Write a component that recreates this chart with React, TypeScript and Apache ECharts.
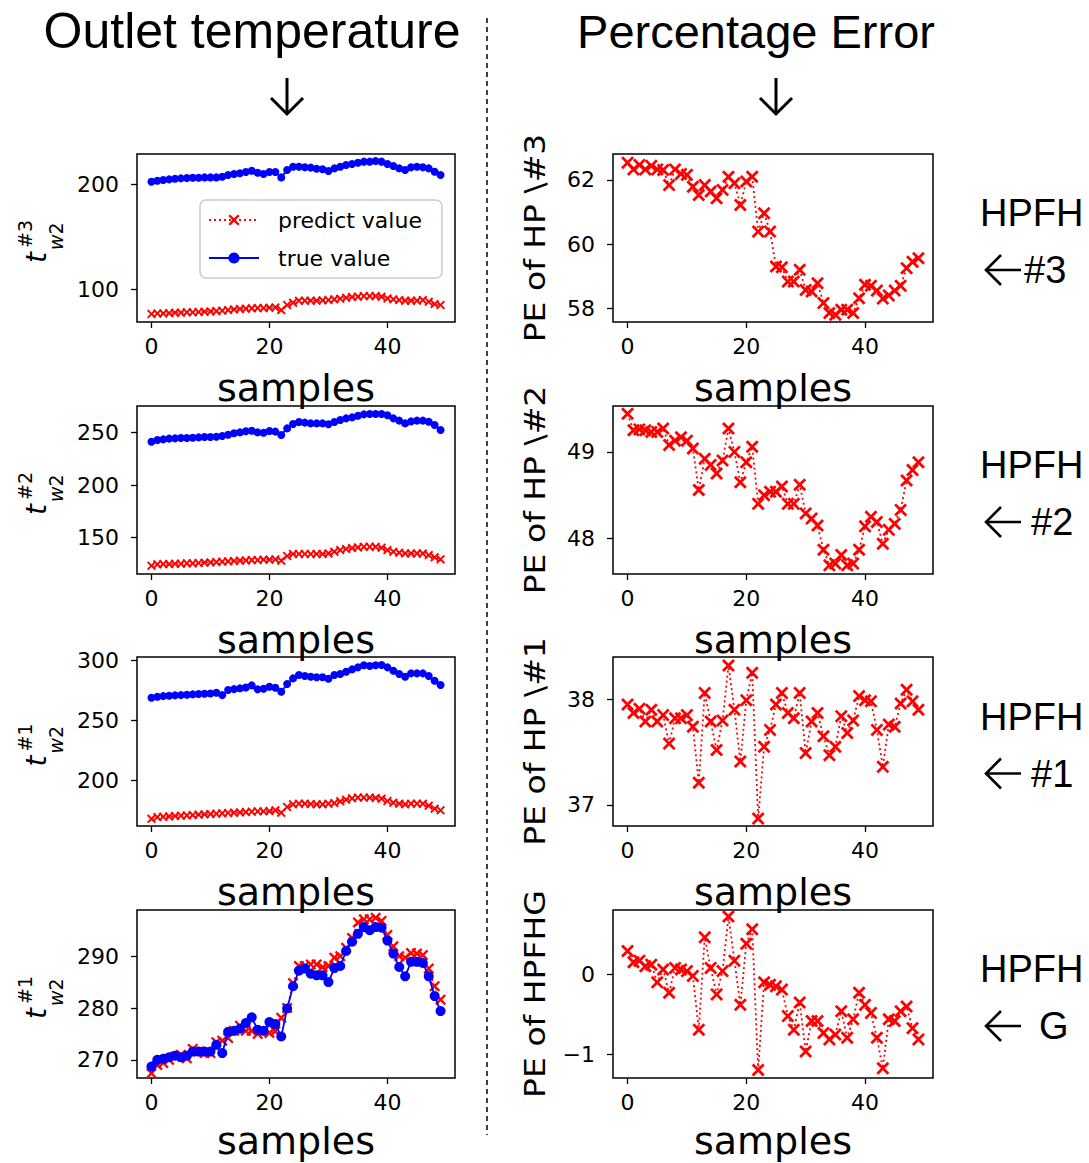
import React, { useEffect, useRef } from "react";
import * as echarts from "echarts";

// ---------- data ----------
const xTicks = [0, 20, 40];

const hp3True = [202.2,203.2,203.8,204.4,205.1,205.4,205.7,206.0,206.0,206.3,206.3,206.3,207.0,208.6,209.5,210.2,211.4,212.7,210.8,209.5,211.4,211.4,206.3,213.3,216.5,216.5,215.9,215.6,214.6,214.0,212.4,214.9,216.5,218.1,219.0,220.3,221.3,221.3,221.9,221.3,219.0,217.1,214.9,213.3,215.9,216.5,215.9,214.9,211.7,208.6];
const hp3Pred = [76.2,76.8,76.8,77.1,77.5,77.5,77.8,77.8,78.1,78.4,78.7,79.0,79.4,80.0,80.6,81.0,81.3,81.6,81.9,81.9,82.2,82.5,80.0,84.8,87.0,88.9,88.9,88.9,88.9,89.2,89.5,90.2,90.8,91.7,92.4,92.7,93.3,93.3,93.3,92.7,91.1,90.2,89.5,88.9,88.9,88.9,89.5,87.9,85.7,84.8];

const hp2True = [241.4,243.0,243.6,244.3,244.6,244.9,244.9,245.2,245.5,245.9,245.9,246.2,246.8,248.1,249.4,250.3,251.3,251.9,250.3,250.0,251.6,251.0,247.8,254.1,258.3,260.2,259.6,258.9,258.9,258.9,258.0,260.2,262.1,263.7,264.6,266.2,267.5,267.8,267.8,267.8,266.6,263.7,261.5,258.9,260.8,261.5,261.5,260.5,257.3,252.5];
const hp2Pred = [122.9,124.2,124.5,124.5,124.8,124.8,125.2,125.2,125.5,125.8,126.1,126.4,126.8,127.1,127.4,127.7,128.0,128.3,128.3,128.7,128.7,129.0,127.7,132.2,134.1,134.1,134.1,134.1,134.1,134.1,134.7,136.3,137.9,138.9,139.8,140.4,141.0,141.0,141.0,140.1,137.9,136.3,135.4,134.7,134.7,134.7,134.7,133.1,130.9,129.0];

const hp1True = [268.6,269.4,270.0,270.3,270.6,270.8,271.1,271.4,271.7,271.9,272.2,272.8,270.8,275.0,275.8,276.4,277.2,278.9,275.6,276.1,277.8,276.9,273.6,280.0,284.7,287.5,286.7,286.1,285.6,285.6,284.4,287.5,288.3,290.3,292.2,293.9,295.6,295.0,295.6,295.8,293.9,291.1,288.3,286.1,288.9,288.9,288.9,286.7,282.8,279.2];
const hp1Pred = [168.0,169.4,169.7,170.0,170.3,170.6,170.8,171.1,171.4,171.7,171.9,172.2,172.5,172.8,173.1,173.3,173.6,173.9,174.2,174.2,174.4,175.0,173.1,177.8,180.0,180.6,180.6,180.3,180.0,180.0,180.6,181.1,182.5,183.9,185.0,185.6,185.6,185.6,185.3,184.7,182.8,181.4,180.6,180.0,180.6,180.6,180.6,178.9,176.4,175.0];

const hpgTrue = [268.7,270.0,270.2,270.5,270.8,270.5,270.8,271.6,271.6,271.6,271.6,272.9,271.3,275.4,275.6,276.0,277.1,278.2,275.8,275.6,277.3,276.9,274.5,279.9,284.2,287.2,287.6,286.6,286.3,286.3,285.0,287.7,288.1,291.0,292.8,294.3,295.6,295.0,295.6,295.5,293.0,290.5,287.9,286.1,288.9,288.9,288.7,286.1,282.3,279.4];
const hpgPred = [267.4,269.0,269.4,270.0,270.6,271.0,270.3,272.1,271.6,271.3,271.3,273.4,273.7,274.2,275.6,276.6,275.6,275.6,275.0,275.6,275.2,275.5,278.1,280.0,284.8,288.1,288.1,288.4,288.4,287.9,288.1,289.7,290.0,291.6,293.5,296.5,297.1,297.1,297.4,296.8,294.1,291.9,290.0,289.7,290.6,290.5,290.2,287.6,284.2,281.6];

const pe3 = [62.54,62.33,62.47,62.33,62.44,62.33,62.31,61.84,62.33,62.19,62.16,61.79,61.53,61.84,61.64,61.43,61.69,62.10,61.90,61.22,61.95,62.10,60.39,60.96,60.39,59.30,59.28,58.83,58.83,59.20,58.57,58.52,58.78,58.16,57.85,57.80,57.95,57.95,57.85,58.31,58.73,58.70,58.55,58.30,58.40,58.55,58.70,59.25,59.45,59.56];
const pe2 = [49.44,49.25,49.26,49.25,49.23,49.23,49.27,49.08,49.13,49.17,49.13,49.04,48.56,48.92,48.85,48.75,48.90,49.27,49.00,48.65,48.88,49.06,48.40,48.50,48.54,48.54,48.60,48.40,48.40,48.62,48.29,48.23,48.15,47.87,47.69,47.71,47.81,47.69,47.71,47.87,48.14,48.25,48.19,47.94,48.10,48.17,48.33,48.67,48.79,48.88];
const pe1 = [37.95,37.87,37.91,37.79,37.90,37.79,37.85,37.58,37.82,37.82,37.85,37.74,37.21,38.06,37.79,37.52,37.80,38.32,37.90,37.41,37.99,38.25,36.87,37.55,37.71,37.95,38.06,37.87,37.82,38.06,37.49,37.79,37.87,37.65,37.47,37.55,37.84,37.68,37.80,38.03,37.99,37.98,37.71,37.36,37.76,37.74,37.96,38.09,37.98,37.90];
const peG = [0.29,0.15,0.17,0.10,0.12,-0.10,0.06,-0.23,0.08,0.06,0.04,-0.02,-0.69,0.46,0.08,-0.25,0.04,0.72,0.17,-0.38,0.38,0.56,-1.19,-0.10,-0.13,-0.15,-0.19,-0.52,-0.69,-0.35,-0.96,-0.58,-0.58,-0.73,-0.81,-0.75,-0.46,-0.79,-0.56,-0.23,-0.38,-0.48,-0.79,-1.17,-0.56,-0.58,-0.46,-0.40,-0.67,-0.81];

const leftTicks = [[100, 200], [150, 200, 250], [200, 250, 300], [270, 280, 290]];
const rightTicks = [[58, 60, 62], [48, 49], [37, 38], [-1, 0]];
const leftRanges = [[68.6, 228.6], [115, 275.5], [162, 302.5], [266.5, 298.9]];
const rightRanges = [[57.57, 62.81], [47.59, 49.53], [36.8, 38.4], [-1.29, 0.8]];
const supLabels = ["#3", "#2", "#1", "#1"];
const peLabels = ["PE of HP \\#3", "PE of HP \\#2", "PE of HP \\#1", "PE of HPFHG"];
const sideLabels = ["#3", "#2", "#1", "G"];

// ---------- layout ----------
const rowTops = [154, 406, 657, 910];
const rowHeights = [168, 168, 169, 168];
const LEFT_X = 137, LEFT_W = 318, RIGHT_X = 613, RIGHT_W = 320;
const sideTextX = [1024, 1031, 1031, 1039];
const samplesY = [388, 640, 892, 1141];

const XSYM = "path://M0,1.5L1.5,0L5,3.5L8.5,0L10,1.5L6.5,5L10,8.5L8.5,10L5,6.5L1.5,10L0,8.5L3.5,5Z";
const FONT = "DejaVu Sans";
const TITLE_FONT = "Liberation Sans";

const fmt = (v: number) => (v < 0 ? "\u2212" + Math.abs(v) : String(v));

function App() {
  const ref = useRef<HTMLDivElement>(null);
  useEffect(() => {
    if (!ref.current) return;
    const chart = echarts.init(ref.current, undefined, { renderer: "svg" });

    const grids: any[] = [];
    const xAxes: any[] = [];
    const yAxes: any[] = [];
    const series: any[] = [];
    const graphics: any[] = [];

    const axisCommonX = (gi: number) => ({
      type: "value",
      gridIndex: gi,
      min: -2.45,
      max: 51.45,
      axisLine: { show: false, onZero: false },
      splitLine: { show: false },
      axisTick: { show: true, customValues: xTicks, length: 6, lineStyle: { color: "#000", width: 1.3 } },
      axisLabel: { customValues: xTicks, fontSize: 22, fontFamily: FONT, color: "#000", margin: 13, formatter: fmt },
    });
    const axisCommonY = (gi: number, range: number[], ticks: number[]) => ({
      type: "value",
      gridIndex: gi,
      min: range[0],
      max: range[1],
      axisLine: { show: false, onZero: false },
      splitLine: { show: false },
      axisTick: { show: true, customValues: ticks, length: 6, lineStyle: { color: "#000", width: 1.3 } },
      axisLabel: { customValues: ticks, fontSize: 22, fontFamily: FONT, color: "#000", margin: 18, formatter: fmt },
    });

    const leftTrue = [hp3True, hp2True, hp1True, hpgTrue];
    const leftPred = [hp3Pred, hp2Pred, hp1Pred, hpgPred];
    const peData = [pe3, pe2, pe1, peG];

    for (let r = 0; r < 4; r++) {
      const gl = r, gr = r + 4;
      grids[gl] = { left: LEFT_X, top: rowTops[r], width: LEFT_W, height: rowHeights[r], show: true, borderColor: "#000", borderWidth: 1.5, containLabel: false };
      grids[gr] = { left: RIGHT_X, top: rowTops[r], width: RIGHT_W, height: rowHeights[r], show: true, borderColor: "#000", borderWidth: 1.5, containLabel: false };
      xAxes[gl] = axisCommonX(gl);
      xAxes[gr] = axisCommonX(gr);
      yAxes[gl] = axisCommonY(gl, leftRanges[r], leftTicks[r]);
      yAxes[gr] = axisCommonY(gr, rightRanges[r], rightTicks[r]);

      const big = r === 3;
      series.push({
        type: "line",
        name: "predict value",
        xAxisIndex: gl,
        yAxisIndex: gl,
        data: leftPred[r].map((v, i) => [i, v]),
        symbol: XSYM,
        symbolSize: big ? 11 : 9,
        showAllSymbol: true,
        lineStyle: { color: "#ff0000", width: 1.5, type: [2, 3] },
        itemStyle: { color: "#ff0000" },
        emphasis: { disabled: true },
        z: 2,
      });
      series.push({
        type: "line",
        name: "true value",
        xAxisIndex: gl,
        yAxisIndex: gl,
        data: leftTrue[r].map((v, i) => [i, v]),
        symbol: "circle",
        symbolSize: big ? 10 : 8,
        showAllSymbol: true,
        lineStyle: { color: "#0000ff", width: 1.8 },
        itemStyle: { color: "#0000ff" },
        emphasis: { disabled: true },
        z: 3,
      });
      series.push({
        type: "line",
        name: "PE",
        xAxisIndex: gr,
        yAxisIndex: gr,
        data: peData[r].map((v, i) => [i, v]),
        symbol: XSYM,
        symbolSize: 13,
        showAllSymbol: true,
        lineStyle: { color: "#ff0000", width: 1.8, type: [2, 3] },
        itemStyle: { color: "#ff0000" },
        emphasis: { disabled: true },
        z: 2,
      });

      const yc = rowTops[r] + rowHeights[r] / 2;
      // x axis names
      graphics.push({ type: "text", x: LEFT_X + LEFT_W / 2, y: samplesY[r], style: { text: "samples", font: `38px '${FONT}'`, fill: "#000", textAlign: "center", textVerticalAlign: "middle" }, z: 10 });
      graphics.push({ type: "text", x: RIGHT_X + RIGHT_W / 2, y: samplesY[r], style: { text: "samples", font: `38px '${FONT}'`, fill: "#000", textAlign: "center", textVerticalAlign: "middle" }, z: 10 });
      // left y label t^{#}_{w2}
      graphics.push({
        type: "group",
        x: 45,
        y: yc + 25,
        rotation: Math.PI / 2,
        children: [
          { type: "text", x: 0, y: -9, style: { text: "t", font: `italic 28px '${FONT}'`, fill: "#000", textAlign: "left", textVerticalAlign: "middle" } },
          { type: "text", x: 15, y: -20, style: { text: supLabels[r], font: `19px '${FONT}'`, fill: "#000", textAlign: "left", textVerticalAlign: "middle" } },
          { type: "text", x: 13, y: 11, style: { text: "{i|w}{n|2}", rich: { i: { fontStyle: "italic", fontSize: 19, fontFamily: FONT, fill: "#000" }, n: { fontSize: 19, fontFamily: FONT, fill: "#000" } }, textAlign: "left", textVerticalAlign: "middle" } },
        ],
      });
      // right y label
      graphics.push({
        type: "text",
        x: 535,
        y: yc,
        rotation: Math.PI / 2,
        scaleX: 1.18,
        style: { text: peLabels[r], font: `28px '${FONT}'`, fill: "#000", textAlign: "center", textVerticalAlign: "middle" },
      });
      // side labels
      const ay = yc + 32;
      graphics.push({ type: "text", x: 980, y: yc - 25, style: { text: "HPFH", font: `38px '${TITLE_FONT}'`, fill: "#000", textAlign: "left", textVerticalAlign: "middle" } });
      graphics.push({ type: "line", shape: { x1: 986, y1: ay, x2: 1021, y2: ay }, style: { stroke: "#000", lineWidth: 2.6 } });
      graphics.push({ type: "polyline", shape: { points: [[1001, ay - 15], [986, ay], [1001, ay + 15]] }, style: { stroke: "#000", lineWidth: 2.6, fill: "none" } });
      graphics.push({ type: "text", x: sideTextX[r], y: ay, style: { text: sideLabels[r], font: `38px '${TITLE_FONT}'`, fill: "#000", textAlign: "left", textVerticalAlign: "middle" } });
    }

    // titles
    graphics.push({ type: "text", x: 252, y: 31, style: { text: "Outlet temperature", font: `50px '${TITLE_FONT}'`, fill: "#000", textAlign: "center", textVerticalAlign: "middle" } });
    graphics.push({ type: "text", x: 756, y: 31, style: { text: "Percentage Error", font: `47px '${TITLE_FONT}'`, fill: "#000", textAlign: "center", textVerticalAlign: "middle" } });
    // down arrows
    for (const ax of [287, 776]) {
      graphics.push({ type: "line", shape: { x1: ax, y1: 78, x2: ax, y2: 114 }, style: { stroke: "#000", lineWidth: 3 } });
      graphics.push({ type: "polyline", shape: { points: [[ax - 16, 98], [ax, 114], [ax + 16, 98]] }, style: { stroke: "#000", lineWidth: 3, fill: "none" } });
    }
    // dashed separator
    graphics.push({ type: "line", shape: { x1: 487, y1: 18, x2: 487, y2: 1135 }, style: { stroke: "#000", lineWidth: 1.5, lineDash: [5, 4] } });

    chart.setOption({
      animation: false,
      backgroundColor: "#fff",
      grid: grids,
      xAxis: xAxes,
      yAxis: yAxes,
      series,
      graphic: graphics,
      legend: {
        data: ["predict value", "true value"],
        orient: "vertical",
        left: 200,
        top: 200,
        itemWidth: 50,
        itemHeight: 14,
        itemGap: 16,
        selectedMode: false,
        backgroundColor: "rgba(255,255,255,0.8)",
        borderColor: "#ccc",
        borderWidth: 1.5,
        borderRadius: 6,
        padding: [9, 20, 9, 8],
        textStyle: { fontSize: 22, fontFamily: FONT, color: "#000", padding: [0, 0, 0, 14] },
      },
    });
    return () => chart.dispose();
  }, []);
  return <div ref={ref} style={{ position: "absolute", left: 0, top: 0, width: 1089, height: 1163 }} />;
}

export default App;
